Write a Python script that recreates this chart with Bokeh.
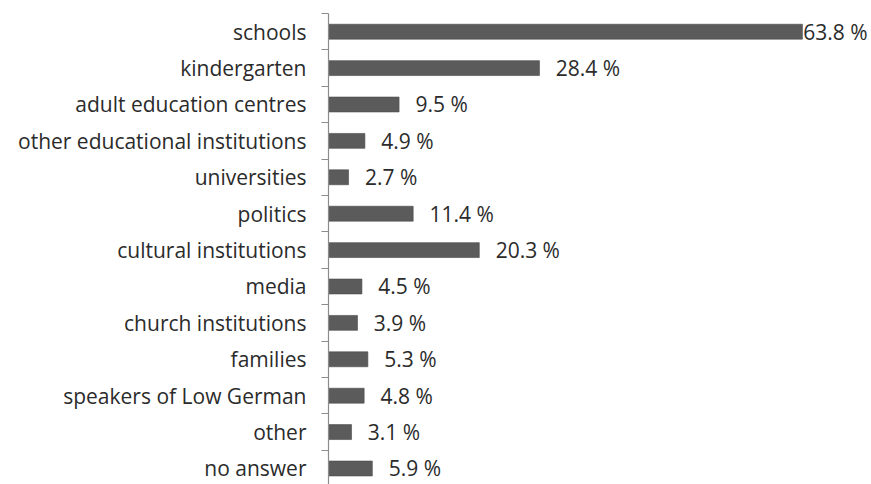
from bokeh.plotting import figure
from bokeh.models import ColumnDataSource, Range1d, FixedTicker, LabelSet
from bokeh.core.properties import value
from bokeh.embed import file_html
from bokeh.resources import INLINE

categories = [
    "schools", "kindergarten", "adult education centres",
    "other educational institutions", "universities", "politics",
    "cultural institutions", "media", "church institutions", "families",
    "speakers of Low German", "other", "no answer",
]
values = [63.8, 28.4, 9.5, 4.9, 2.7, 11.4, 20.3, 4.5, 3.9, 5.3, 4.8, 3.1, 5.9]

n = len(categories)
centers = [i + 0.5 for i in range(n)]
vmax = max(values)
# labels sit a little right of each bar; the longest bar keeps its label tight
label_x = [v + (0.1 if v == vmax else 2.2) for v in values]
label_txt = [f"{v:.1f} %" for v in values]

src = ColumnDataSource(dict(y=centers, v=values, lx=label_x, txt=label_txt))

FONT = "Open Sans"
p = figure(width=871, height=484, output_backend="svg", toolbar_location=None,
           x_range=Range1d(0, 73.1), y_range=Range1d(12.94, 0),
           min_border_left=328, min_border_right=0, min_border_top=13,
           min_border_bottom=0, outline_line_color=None)
p.background_fill_color = "white"
p.border_fill_color = "white"
p.grid.visible = False
p.xaxis.visible = False

p.hbar(y="y", right="v", left=0, height=0.41, source=src,
       fill_color="#5b5b5b", line_color="#4a4a4a", line_width=0.6)

ax = p.yaxis[0]
ax.ticker = FixedTicker(ticks=centers, minor_ticks=[float(i) for i in range(n + 1)])
ax.major_label_overrides = {c: name for c, name in zip(centers, categories)}
ax.major_tick_out = 0
ax.major_tick_in = 0
ax.minor_tick_out = 7
ax.minor_tick_in = 0
ax.minor_tick_line_color = "#8c8c8c"
ax.axis_line_color = "#8c8c8c"
ax.axis_line_width = 1.2
ax.major_label_standoff = 15
ax.major_label_text_font = FONT
ax.major_label_text_font_size = "21px"
ax.major_label_text_color = "#2b2b2b"

labels = LabelSet(x="lx", y="y", text="txt", source=src, text_align="left",
                  text_baseline="middle", text_font=value(FONT),
                  text_font_size="21px", text_color="#2b2b2b")
p.add_layout(labels)

open("out.html", "w").write(file_html(p, INLINE))
